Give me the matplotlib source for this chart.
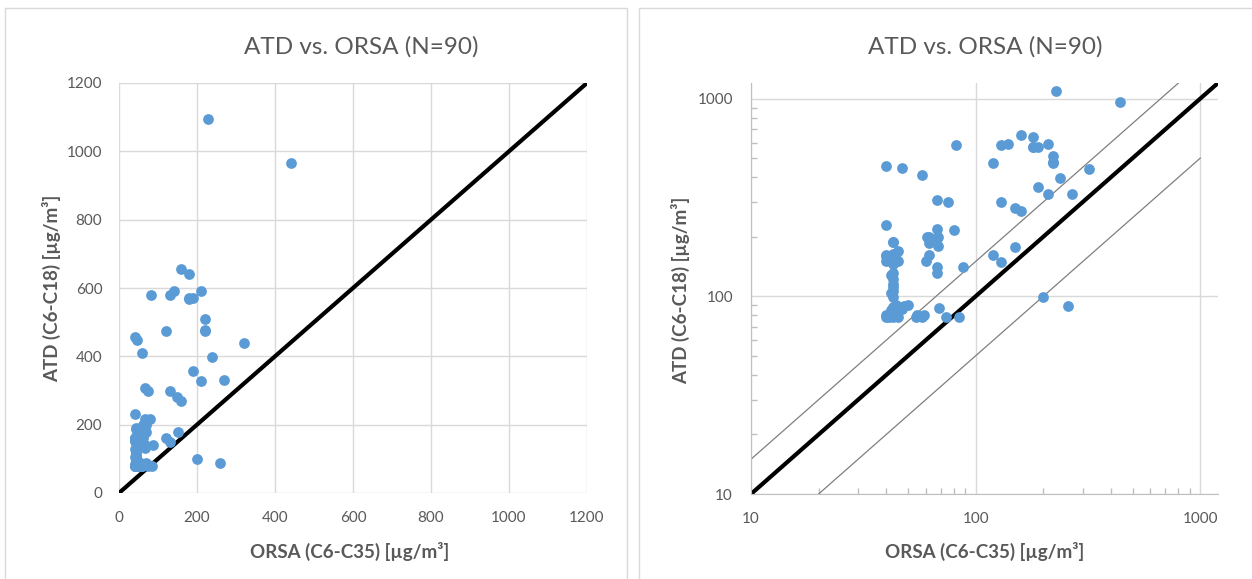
import matplotlib
matplotlib.use("Agg")
import matplotlib.pyplot as plt
from matplotlib.patches import Rectangle
from matplotlib.ticker import LogLocator, NullFormatter, FixedLocator, FixedFormatter

# ---- data (µg/m³) ----
orsa = [228, 440, 160, 180, 130, 140, 180, 190, 210, 220,
        220, 120, 82, 40, 47, 58, 320, 238, 189, 210,
        270, 67, 75, 130, 149, 160, 40, 67, 80, 61,
        67, 62, 43, 68, 150, 45, 40, 43, 62, 120,
        40, 43, 45, 60, 130, 67, 88, 67, 43, 43,
        43, 43, 43, 200, 258, 43, 46, 48, 50, 69,
        40, 43, 45, 54, 58, 74, 84, 40, 41, 42,
        44, 42, 44, 41, 42, 44, 41, 43, 42, 43,
        42, 47, 55, 59, 62, 68, 180, 220, 40, 43]
atd = [1095, 965, 655, 640, 580, 590, 568, 570, 590, 510,
       475, 475, 580, 458, 448, 410, 440, 398, 358, 328,
       330, 308, 300, 300, 280, 270, 230, 218, 217, 200,
       198, 187, 188, 180, 178, 169, 161, 163, 161, 161,
       151, 151, 151, 151, 150, 140, 140, 131, 131, 122,
       112, 106, 99, 99, 89, 88, 88, 89, 90, 87,
       79, 79, 79, 79, 79, 79, 79, 80, 79, 80,
       80, 85, 90, 152, 160, 165, 158, 145, 128, 115,
       104, 86, 80, 80, 199, 199, 570, 478, 160, 189]

lin_ticks = [0, 200, 400, 600, 800, 1000, 1200]
log_ticks = [10, 100, 1000]
title = "ATD vs. ORSA (N=90)"
xlabel = "ORSA (C6-C35) [µg/m³]"
ylabel = "ATD (C6-C18) [µg/m³]"

# ---- styling ----
plt.rcParams['font.family'] = ['Lato', 'DejaVu Sans']
W, H = 1252, 579
fig = plt.figure(figsize=(W / 100, H / 100), dpi=100)
fig.patch.set_facecolor('white')

TXT = '#595959'
GRID = '#D9D9D9'
AXC = '#BFBFBF'
DOT = '#5B9BD5'

# panel borders
fig.add_artist(Rectangle((5 / W, -0.05), (627 - 5) / W, 1.05 - 8 / H, transform=fig.transFigure,
                         fill=False, ec=GRID, lw=1.0))
fig.add_artist(Rectangle((639 / W, -0.05), 1.0, 1.05 - 8 / H, transform=fig.transFigure,
                         fill=False, ec=GRID, lw=1.0))


def ax_rect(l, r, t, b):
    return [l / W, (H - b) / H, (r - l) / W, (b - t) / H]


# ---------- left: linear ----------
ax1 = fig.add_axes(ax_rect(119, 587, 83, 493))
ax1.set_xlim(0, 1200)
ax1.set_ylim(0, 1200)
ax1.set_xticks(lin_ticks)
ax1.set_yticks(lin_ticks)
ax1.grid(True, color=GRID, lw=1.0)
ax1.set_axisbelow(True)
for s in ax1.spines.values():
    s.set_visible(False)
ax1.tick_params(length=0, labelsize=11, labelcolor=TXT)
ax1.tick_params(axis='x', pad=13)
ax1.tick_params(axis='y', pad=12)
ax1.plot([0, 1200], [0, 1200], color='black', lw=3.0, zorder=2, solid_capstyle='butt')
ax1.scatter(orsa, atd, s=60, color=DOT, zorder=3, linewidths=0, clip_on=False)

# ---------- right: log-log ----------
ax2 = fig.add_axes(ax_rect(751, 1218, 83, 494))
ax2.set_xscale('log')
ax2.set_yscale('log')
ax2.set_xlim(10, 1200)
ax2.set_ylim(10, 1200)
ax2.xaxis.set_major_locator(FixedLocator(log_ticks))
ax2.yaxis.set_major_locator(FixedLocator(log_ticks))
ax2.xaxis.set_major_formatter(FixedFormatter([str(t) for t in log_ticks]))
ax2.yaxis.set_major_formatter(FixedFormatter([str(t) for t in log_ticks]))
ax2.xaxis.set_minor_locator(LogLocator(base=10, subs=range(2, 10)))
ax2.yaxis.set_minor_locator(LogLocator(base=10, subs=range(2, 10)))
ax2.xaxis.set_minor_formatter(NullFormatter())
ax2.yaxis.set_minor_formatter(NullFormatter())
ax2.grid(True, which='major', color=GRID, lw=1.0)
ax2.set_axisbelow(True)
ax2.spines['top'].set_visible(False)
ax2.spines['right'].set_visible(False)
ax2.spines['left'].set_color(AXC)
ax2.spines['bottom'].set_color(AXC)
ax2.tick_params(which='major', length=0, labelsize=11, labelcolor=TXT)
ax2.tick_params(which='minor', direction='in', length=4, color=AXC, width=1)
ax2.tick_params(axis='x', which='major', pad=13)
ax2.tick_params(axis='y', which='major', pad=13)

ax2.plot([10, 800], [15, 1200], color='#7F7F7F', lw=0.9, zorder=2)
ax2.plot([20, 1000], [10, 500], color='#7F7F7F', lw=0.9, zorder=2)
ax2.plot([10, 1200], [10, 1200], color='black', lw=3.0, zorder=2, solid_capstyle='butt')
ax2.scatter(orsa, atd, s=60, color=DOT, zorder=3, linewidths=0, clip_on=False)

# ---------- texts ----------
for cx in (361, 985):
    fig.text(cx / W, 1 - 47 / H, title, ha='center', va='center', fontsize=17.5, color=TXT)
for cx, ylx, cy in ((350, 52, 288), (985, 681, 290)):
    fig.text(cx / W, 1 - 551 / H, xlabel, ha='center', va='center', fontsize=13.5,
             fontweight='bold', color=TXT)
    fig.text(ylx / W, 1 - cy / H, ylabel, ha='center', va='center', rotation=90,
             fontsize=13.5, fontweight='bold', color=TXT)

fig.savefig('out.png', dpi=100, facecolor='white')
